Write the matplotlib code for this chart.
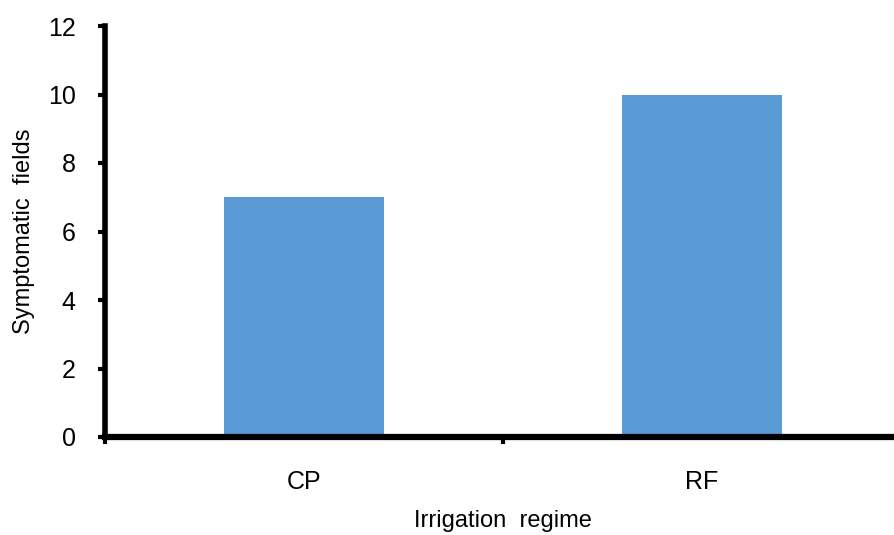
import matplotlib.pyplot as plt
from matplotlib.ticker import FixedLocator

# data
categories = ['CP', 'RF']
symptomatic = [7, 10]

plt.rcParams['font.family'] = ['Liberation Sans', 'DejaVu Sans']

fig = plt.figure(figsize=(8.95, 5.35), dpi=100)
# axes runs off the right edge like in the original
ax = fig.add_axes([105 / 895, 98 / 535, 796 / 895, 411 / 535])

x = range(len(categories))
ax.bar(x, symptomatic, width=0.4, color='#5B9BD5', zorder=2)

ax.set_xlim(-0.5, 1.5)
ax.set_ylim(0, 12)
ax.set_yticks(range(0, 13, 2))
ax.set_xticks(list(x))
ax.set_xticklabels(categories)
ax.xaxis.set_minor_locator(FixedLocator([-0.5, 0.5, 1.5]))

for s in ['top', 'right']:
    ax.spines[s].set_visible(False)
ax.spines['left'].set_linewidth(4)
ax.spines['bottom'].set_linewidth(4.5)
ax.spines['left'].set_zorder(3)
ax.spines['bottom'].set_zorder(3)

ax.tick_params(axis='y', direction='out', length=5, width=3, labelsize=18, pad=16)
ax.tick_params(axis='x', which='major', length=0, labelsize=18, pad=24)
ax.tick_params(axis='x', which='minor', direction='out', length=5, width=3)

ax.set_ylabel('Symptomatic  fields', fontsize=17, labelpad=9)
ax.set_xlabel('Irrigation  regime', fontsize=17, labelpad=11)

fig.savefig('out.png', dpi=100)
